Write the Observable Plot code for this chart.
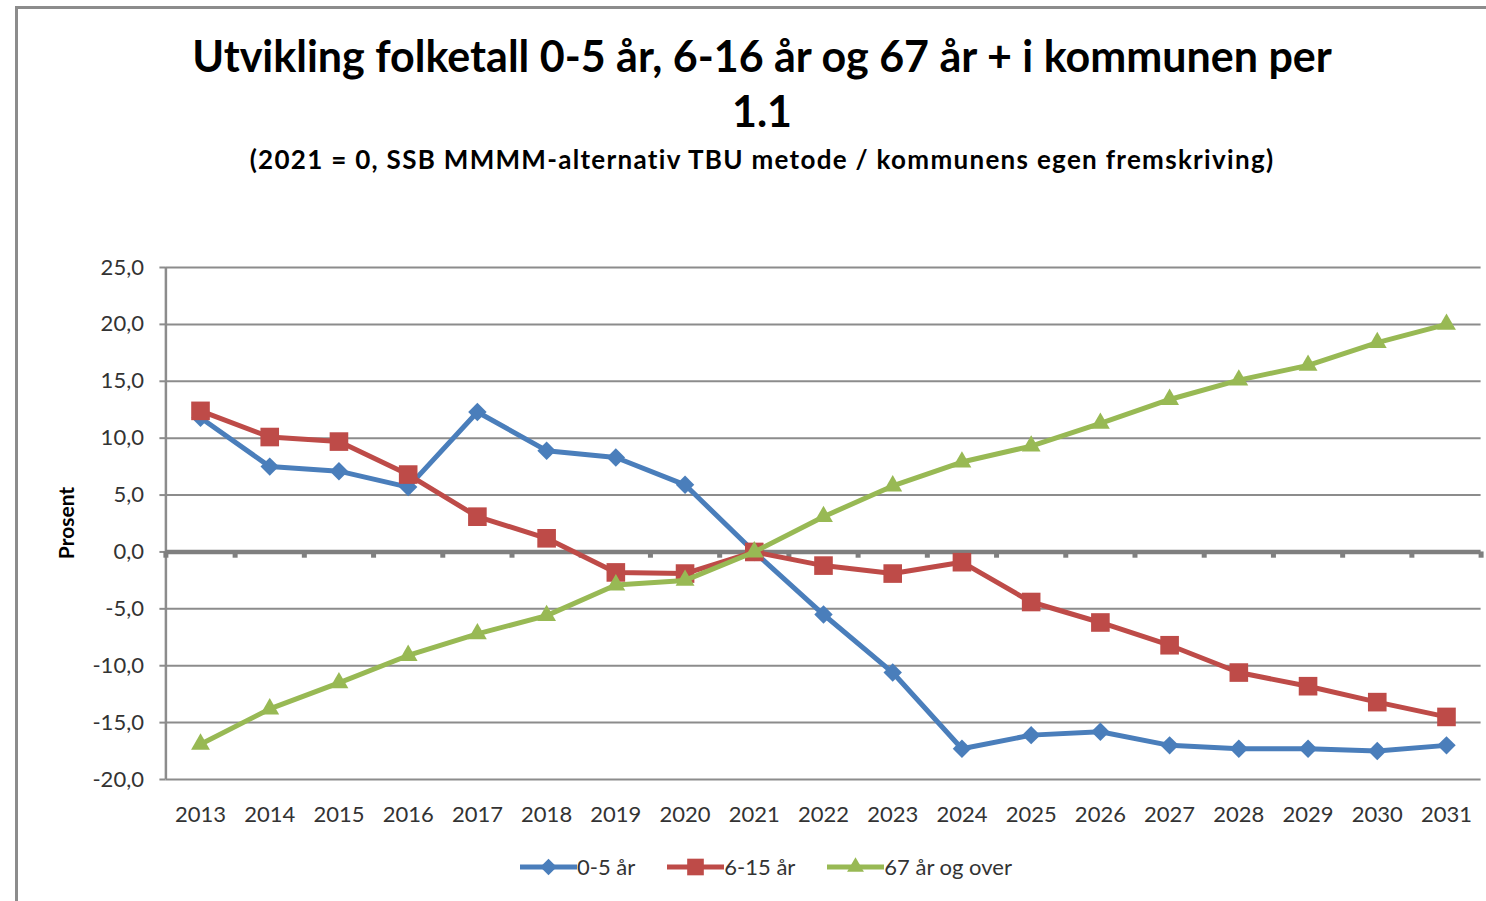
<!DOCTYPE html>
<html>
<head>
<meta charset="utf-8">
<script src="https://cdn.jsdelivr.net/npm/d3@7"></script>
<script src="https://cdn.jsdelivr.net/npm/@observablehq/plot@0.6"></script>
<style>
  html, body { margin: 0; padding: 0; background: #fff; }
  body { width: 1486px; height: 901px; overflow: hidden; position: relative; font-family: Lato, "Open Sans", sans-serif; }
  #frame { position: absolute; left: 15px; top: 6px; width: 1480px; height: 900px; border-left: 3px solid #8c8c8c; border-top: 3px solid #8c8c8c; box-sizing: border-box; }
  #title { position: absolute; left: 16px; width: 1492px; top: 28px; text-align: center; font-weight: 700; font-size: 43px; line-height: 55px; color: #000; }
  #subtitle { position: absolute; left: 16px; width: 1492px; top: 143px; text-align: center; font-weight: 700; font-size: 26px; letter-spacing: 1.3px; color: #000; }
  #ylabel { position: absolute; left: 65px; top: 523px; transform: translate(-50%, -50%) rotate(-90deg); font-weight: 700; font-size: 21px; color: #000; white-space: nowrap; }
  #chart { position: absolute; left: 0; top: 240px; }
  #legend { position: absolute; left: 16px; width: 1500px; top: 853px; display: flex; justify-content: center; align-items: center; font-size: 22px; color: #333; }
  .item { display: flex; align-items: center; margin: 0 16px; }
  .item svg { display: block; }
</style>
</head>
<body>
<div id="frame"></div>
<div id="title">Utvikling folketall 0-5 år, 6-16 år og 67 år + i kommunen per<br>1.1</div>
<div id="subtitle">(2021 = 0, SSB MMMM-alternativ TBU metode / kommunens egen fremskriving)</div>
<div id="ylabel">Prosent</div>
<div id="chart"></div>
<div id="legend"></div>
<script>
// ---- data ----
const years = [2013, 2014, 2015, 2016, 2017, 2018, 2019, 2020, 2021, 2022, 2023, 2024, 2025, 2026, 2027, 2028, 2029, 2030, 2031];
const seriesNames = ["0-5 år", "6-15 år", "67 år og over"];
const age0to5 = [11.8, 7.5, 7.1, 5.7, 12.3, 8.9, 8.3, 5.9, 0.0, -5.5, -10.6, -17.3, -16.1, -15.8, -17.0, -17.3, -17.3, -17.5, -17.0];
const age6to15 = [12.4, 10.1, 9.7, 6.8, 3.1, 1.2, -1.8, -1.9, 0.0, -1.2, -1.9, -0.9, -4.4, -6.2, -8.2, -10.6, -11.8, -13.2, -14.5];
const age67plus = [-16.9, -13.8, -11.5, -9.1, -7.2, -5.6, -2.9, -2.5, 0.0, 3.1, 5.8, 7.9, 9.3, 11.3, 13.4, 15.1, 16.4, 18.4, 20.0];
const yTicks = [-20, -15, -10, -5, 0, 5, 10, 15, 20, 25];

// ---- build table ----
const seriesValues = [age0to5, age6to15, age67plus];
const rows = seriesNames.flatMap((name, s) => years.map((year, i) => ({series: name, year, value: seriesValues[s][i]})));
const boundaries = years.map(y => y - 0.5).concat([years[years.length - 1] + 0.5]);

const colors = ["#4A7EBB", "#BE4B48", "#98B954"];
const symbols = ["diamond2", "square", "triangle"];
const radii = [8.3, 10.5, 7.0];
const gridColor = "#8c8c8c";

const seriesMarks = seriesNames.flatMap((name, s) => {
  const data = rows.filter(d => d.series === name);
  return [
    Plot.line(data, {x: "year", y: "value", stroke: colors[s], strokeWidth: 5, strokeLinejoin: "round"}),
    Plot.dot(data, {x: "year", y: "value", symbol: () => symbols[s], fill: colors[s], r: radii[s], stroke: "none"})
  ];
});

const chart = Plot.plot({
  width: 1486,
  height: 600,
  marginLeft: 165.4,
  marginRight: 5.4,
  marginTop: 27,
  marginBottom: 61,
  style: {fontFamily: "Lato, 'Open Sans', sans-serif", fontSize: "22px", color: "#333", background: "transparent", overflow: "visible"},
  x: {type: "linear", domain: [years[0] - 0.5, years[years.length - 1] + 0.5]},
  y: {domain: [-20, 25]},
  symbol: {type: "identity"},
  marks: [
    Plot.ruleY(yTicks.filter(d => d !== 0), {stroke: gridColor, strokeWidth: 2}),
    Plot.axisY(yTicks, {tickSize: 6, tickPadding: 16, stroke: gridColor, strokeWidth: 2, fill: "#333", tickFormat: d => d.toFixed(1).replace(".", ","), label: null, fontSize: 22}),
    Plot.axisX(years, {tickSize: 0, tickPadding: 27, tickFormat: d => String(d), label: null, fill: "#333", fontSize: 22}),
    Plot.ruleX([years[0] - 0.5], {stroke: gridColor, strokeWidth: 2.5}),
    Plot.ruleY([0], {stroke: "#7f7f7f", strokeWidth: 4.5}),
    Plot.ruleX(boundaries, {y1: 0, y2: -0.55, stroke: "#7f7f7f", strokeWidth: 5}),
    ...seriesMarks
  ]
});
document.getElementById("chart").appendChild(chart);

// ---- legend ----
const legend = document.getElementById("legend");
seriesNames.forEach((name, s) => {
  const item = document.createElement("div");
  item.className = "item";
  const svg = d3.create("svg").attr("width", 57).attr("height", 22);
  svg.append("line").attr("x1", 0).attr("x2", 57).attr("y1", 11).attr("y2", 11).attr("stroke", colors[s]).attr("stroke-width", 5);
  const symType = [d3.symbolDiamond2, d3.symbolSquare, d3.symbolTriangle][s];
  svg.append("path").attr("transform", "translate(28.5,11)").attr("d", d3.symbol(symType, Math.PI * radii[s] * radii[s] * 0.8)()).attr("fill", colors[s]);
  item.appendChild(svg.node());
  const label = document.createElement("span");
  label.textContent = name;
  item.appendChild(label);
  legend.appendChild(item);
});
</script>
</body>
</html>
